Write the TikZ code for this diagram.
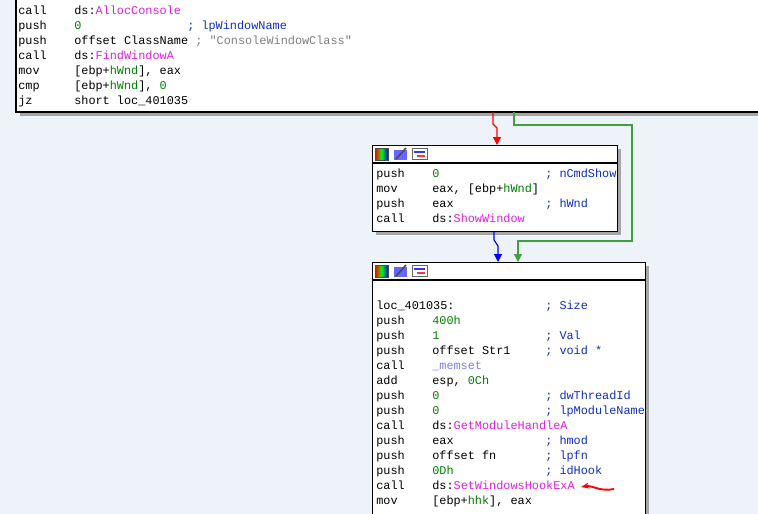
\documentclass[tikz,border=0pt]{standalone}
\usepackage{fontspec}
\setmonofont{Liberation Mono}
\begin{document}
\begin{tikzpicture}[x=0.75pt,y=-0.75pt,
  tx/.style={anchor=base west,inner sep=0,yshift=-3.5pt,font=\ttfamily\fontsize{8.9}{10}\selectfont},
  blk/.style={draw=black,fill=white,line width=0.9pt},
  shd/.style={fill=black!35},
  ed/.style={line width=0.9pt,-{Triangle[length=6pt,width=6pt]}}]
\usetikzlibrary{arrows.meta}
\definecolor{bg}{HTML}{EEF3FA}
\definecolor{fnc}{HTML}{E020E0}
\definecolor{num}{HTML}{008000}
\definecolor{cmt}{HTML}{1030C0}
\definecolor{gry}{HTML}{808080}
\definecolor{imp}{HTML}{8080E0}
\definecolor{ered}{HTML}{FF0000}
\definecolor{egrn}{HTML}{40A040}
\definecolor{eblu}{HTML}{0000FF}
\newcommand\F[1]{\textcolor{fnc}{#1}}
\newcommand\N[1]{\textcolor{num}{#1}}
\newcommand\C[1]{\textcolor{cmt}{#1}}
\fill[bg] (0,0) rectangle (758,514);
\useasboundingbox (0,0) rectangle (758,514);
% top block
\fill[shd] (20,-5) rectangle (762,116);
\draw[blk] (16,-10) rectangle (760,112);
\coordinate (topA) at (493,112);
\coordinate (topB) at (514,112);
\foreach \y/\m/\o in {10/call/{ds:\F{AllocConsole}},
  25/push/{\N{0}},
  40/push/{offset ClassName \textcolor{gry}{; "ConsoleWindowClass"}},
  55/call/{ds:\F{FindWindowA}},
  70/mov/{[ebp+\N{hWnd}], eax},
  85/cmp/{[ebp+\N{hWnd}], \N{0}},
  100/jz/{short loc\_401035}}
  {\node[tx] at (18,\y) {\m}; \node[tx] at (74,\y) {\o};}
\node[tx] at (187,25) {\C{; lpWindowName}};
% icons macro
\newcommand\icons[2]{%
  \shade[left color=red,right color=blue,middle color=green] (#1+3,#2+3) rectangle (#1+16,#2+15);
  \draw[black!70] (#1+3,#2+3) rectangle (#1+16,#2+15);
  \fill[blue!60!white] (#1+22,#2+5) rectangle (#1+35,#2+15);
  \draw[black!70,line width=1.2pt] (#1+24,#2+14) -- (#1+34,#2+3);
  \draw[black!60] (#1+40,#2+3) rectangle (#1+55,#2+14);
  \draw[blue!80,line width=0.8pt] (#1+42,#2+7) -- (#1+53,#2+7);
  \draw[red!80,line width=0.8pt] (#1+45,#2+11) -- (#1+53,#2+11);
}
% block 2
\fill[shd] (376,149) rectangle (621,235);
\node[blk,minimum width=245*0.75pt,minimum height=86*0.75pt,inner sep=0,anchor=north west] (b2) at (372,145) {};
\draw[line width=0.9pt] (372,163) -- (617,163);
\icons{372}{145}
\foreach \y/\m/\o/\c in {173/push/\N{0}/{; nCmdShow},
  188/mov/{eax, [ebp+\N{hWnd}]}/{},
  203/push/eax/{; hWnd},
  218/call/{ds:\F{ShowWindow}}/{}}
  {\node[tx] at (376,\y) {\m}; \node[tx] at (432,\y) {\o}; \node[tx] at (545,\y) {\C{\c}};}
% block 3
\fill[shd] (376,266) rectangle (649,520);
\node[blk,minimum width=273*0.75pt,minimum height=260*0.75pt,inner sep=0,anchor=north west] (b3) at (372,262) {};
\draw[line width=0.9pt] (372,280) -- (645,280);
\icons{372}{262}
\node[tx] at (376,305) {loc\_401035:};
\node[tx] at (545,305) {\C{; Size}};
\foreach \y/\m/\o/\c in {320/push/\N{400h}/{},
  335/push/\N{1}/{; Val},
  350/push/{offset Str1}/{; void *},
  365/call/{\textcolor{imp}{\_memset}}/{},
  380/add/{esp, \N{0Ch}}/{},
  395/push/\N{0}/{; dwThreadId},
  410/push/\N{0}/{; lpModuleName},
  425/call/{ds:\F{GetModuleHandleA}}/{},
  440/push/eax/{; hmod},
  455/push/{offset fn}/{; lpfn},
  470/push/\N{0Dh}/{; idHook},
  485/call/{ds:\F{SetWindowsHookExA}}/{},
  500/mov/{[ebp+\N{hhk}], eax}/{}}
  {\node[tx] at (376,\y) {\m}; \node[tx] at (432,\y) {\o}; \node[tx] at (545,\y) {\C{\c}};}
% edges
\draw[ered,ed] (topA) -- (493,124) -- (497,128) -- (b2.north -| 497,0);
\draw[egrn,ed] (topB) -- (514,125) -- (632,125) -- (632,241) -- (518,241) -- (b3.north -| 518,0);
\draw[eblu,ed] (b2.south -| 494,0) -- (494,240) -- (498,246) -- (b3.north -| 498,0);
% red annotation arrow
\coordinate (annS) at (614,489);
\coordinate (annE) at (581,487);
\draw[ered,line width=1.4pt,-{Stealth[length=6pt]}] (annS) .. controls (600,492) and (592,485) .. (annE);
\end{tikzpicture}
\end{document}
